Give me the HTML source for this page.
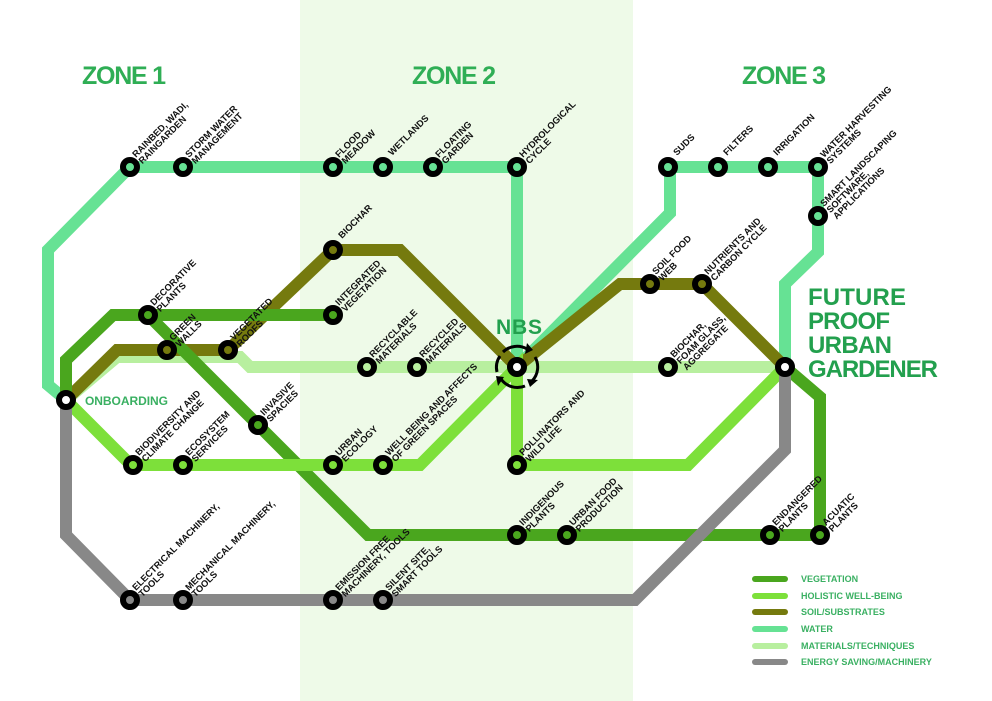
<!DOCTYPE html>
<html><head><meta charset="utf-8"><style>
html,body{margin:0;padding:0;background:#fff}
svg{display:block}
.lbl{font-family:"Liberation Sans",sans-serif;font-weight:bold;font-size:9.3px;fill:#111}
.zone{font-family:"Liberation Sans",sans-serif;font-weight:bold;font-size:25px;fill:#2fae55}
.big{font-family:"Liberation Sans",sans-serif;font-weight:bold;font-size:24px;fill:#23a04e}
.leg{font-family:"Liberation Sans",sans-serif;font-weight:bold;font-size:9px;fill:#3ab062}
</style></head><body>
<svg width="992" height="701" viewBox="0 0 992 701" xmlns="http://www.w3.org/2000/svg">
<rect x="300" y="0" width="333" height="701" fill="#eefae8"/>
<text class="zone" x="82" y="84" textLength="84">ZONE 1</text>
<text class="zone" x="412" y="84" textLength="84">ZONE 2</text>
<text class="zone" x="742" y="84" textLength="84">ZONE 3</text>
<g fill="none" stroke-width="12" stroke-linejoin="miter">
<polyline stroke="#66e294" points="66,400 48,385 48,250 130,167 517,167 517,367"/>
<polyline stroke="#66e294" points="517,367 670,213 670,167 818,167 818,252 785,284 785,367"/>
<polyline stroke="#b8ef9f" points="66,400 117,357 240,357 250,367 785,367"/>
<polyline stroke="#757a0e" points="66,400 117,350 228,350 333,250 400,250 517,367 620,284 702,284 785,367"/>
<polyline stroke="#4aa61e" points="66,400 66,360 113,315 333,315"/>
<polyline stroke="#4aa61e" points="148,315 368,535 820,535 820,397 785,367"/>
<polyline stroke="#7de03a" points="66,400 131,465 420,465 517,367 517,465 688,465 785,367"/>
<polyline stroke="#888" points="66,400 66,535 130,600 635,600 785,450 785,367"/>
</g>
<g stroke="#000" stroke-width="6">
<g fill="#66e294">
<circle cx="130" cy="167" r="7"/><circle cx="183" cy="167" r="7"/><circle cx="333" cy="167" r="7"/><circle cx="383" cy="167" r="7"/><circle cx="433" cy="167" r="7"/><circle cx="517" cy="167" r="7"/><circle cx="668" cy="167" r="7"/><circle cx="718" cy="167" r="7"/><circle cx="768" cy="167" r="7"/><circle cx="818" cy="167" r="7"/><circle cx="818" cy="216" r="7"/>
</g>
<g fill="#757a0e"><circle cx="333" cy="250" r="7"/><circle cx="650" cy="284" r="7"/><circle cx="702" cy="284" r="7"/><circle cx="228" cy="350" r="7"/><circle cx="167" cy="350" r="7"/></g>
<g fill="#4aa61e"><circle cx="148" cy="315" r="7"/><circle cx="333" cy="315" r="7"/><circle cx="258" cy="425" r="7"/><circle cx="517" cy="535" r="7"/><circle cx="567" cy="535" r="7"/><circle cx="770" cy="535" r="7"/><circle cx="820" cy="535" r="7"/></g>
<g fill="#b8ef9f"><circle cx="367" cy="367" r="7"/><circle cx="417" cy="367" r="7"/><circle cx="668" cy="367" r="7"/></g>
<g fill="#7de03a"><circle cx="133" cy="465" r="7"/><circle cx="183" cy="465" r="7"/><circle cx="333" cy="465" r="7"/><circle cx="383" cy="465" r="7"/><circle cx="517" cy="465" r="7"/></g>
<g fill="#888"><circle cx="130" cy="600" r="7"/><circle cx="183" cy="600" r="7"/><circle cx="333" cy="600" r="7"/><circle cx="383" cy="600" r="7"/></g>
<g fill="#fff"><circle cx="66" cy="400" r="7"/><circle cx="785" cy="367" r="7"/><circle cx="517" cy="367" r="7"/></g>
</g>
<g fill="none" stroke="#000" stroke-width="3">
<path d="M503,352 A20,20 0 0 1 527,349"/>
<path d="M535,357 A20,20 0 0 1 532,381"/>
<path d="M525,386 A20,20 0 0 1 501,379"/>
<path d="M497,372 A20,20 0 0 1 500,356"/>
</g>
<g fill="#000">
<polygon points="527,343 533,350 525,354"/>
<polygon points="538,380 530,387 527,379"/>
<polygon points="498,386 496,376 504,377"/>
</g>
<text class="big" x="496" y="334" style="font-size:21px" textLength="46">NBS</text>
<text class="big" x="808" y="305" textLength="98">FUTURE</text>
<text class="big" x="808" y="329" textLength="82">PROOF</text>
<text class="big" x="808" y="353" textLength="84">URBAN</text>
<text class="big" x="808" y="377" textLength="130">GARDENER</text>
<text class="leg" x="85" y="405" style="font-size:12px" textLength="83">ONBOARDING</text>
<g class="lbl">
<text transform="translate(136,158) rotate(-45)">RAINBED, WADI,<tspan x="0" dy="9">RAINGARDEN</tspan></text>
<text transform="translate(189,158) rotate(-45)">STORM WATER<tspan x="0" dy="9">MANAGEMENT</tspan></text>
<text transform="translate(339,158) rotate(-45)">FLOOD<tspan x="0" dy="9">MEADOW</tspan></text>
<text transform="translate(392,156) rotate(-45)">WETLANDS</text>
<text transform="translate(439,158) rotate(-45)">FLOATING<tspan x="0" dy="9">GARDEN</tspan></text>
<text transform="translate(523,158) rotate(-45)">HYDROLOGICAL<tspan x="0" dy="9">CYCLE</tspan></text>
<text transform="translate(677,156) rotate(-45)">SUDS</text>
<text transform="translate(727,156) rotate(-45)">FILTERS</text>
<text transform="translate(777,156) rotate(-45)">IRRIGATION</text>
<text transform="translate(824,158) rotate(-45)">WATER HARVESTING<tspan x="0" dy="9">SYSTEMS</tspan></text>
<text transform="translate(824,207) rotate(-45)">SMART LANDSCAPING<tspan x="0" dy="9">SOFTWARE,</tspan><tspan x="0" dy="9">APPLICATIONS</tspan></text>
<text transform="translate(342,239) rotate(-45)">BIOCHAR</text>
<text transform="translate(339,306) rotate(-45)">INTEGRATED<tspan x="0" dy="9">VEGETATION</tspan></text>
<text transform="translate(154,306) rotate(-45)">DECORATIVE<tspan x="0" dy="9">PLANTS</tspan></text>
<text transform="translate(173,341) rotate(-45)">GREEN<tspan x="0" dy="9">WALLS</tspan></text>
<text transform="translate(234,341) rotate(-45)">VEGETATED<tspan x="0" dy="9">ROOFS</tspan></text>
<text transform="translate(373,358) rotate(-45)">RECYCLABLE<tspan x="0" dy="9">MATERIALS</tspan></text>
<text transform="translate(423,358) rotate(-45)">RECYCLED<tspan x="0" dy="9">MATERIALS</tspan></text>
<text transform="translate(656,275) rotate(-45)">SOIL FOOD<tspan x="0" dy="9">WEB</tspan></text>
<text transform="translate(708,275) rotate(-45)">NUTRIENTS AND<tspan x="0" dy="9">CARBON CYCLE</tspan></text>
<text transform="translate(674,358) rotate(-45)">BIOCHAR,<tspan x="0" dy="9">FOAM GLASS,</tspan><tspan x="0" dy="9">AGGREGATE</tspan></text>
<text transform="translate(264,416) rotate(-45)">INVASIVE<tspan x="0" dy="9">SPACIES</tspan></text>
<text transform="translate(139,456) rotate(-45)">BIODIVERSITY AND<tspan x="0" dy="9">CLIMATE CHANGE</tspan></text>
<text transform="translate(189,456) rotate(-45)">ECOSYSTEM<tspan x="0" dy="9">SERVICES</tspan></text>
<text transform="translate(339,456) rotate(-45)">URBAN<tspan x="0" dy="9">ECOLOGY</tspan></text>
<text transform="translate(389,456) rotate(-45)">WELL BEING AND AFFECTS<tspan x="0" dy="9">OF GREEN SPACES</tspan></text>
<text transform="translate(523,456) rotate(-45)">POLLINATORS AND<tspan x="0" dy="9">WILD LIFE</tspan></text>
<text transform="translate(523,526) rotate(-45)">INDIGENOUS<tspan x="0" dy="9">PLANTS</tspan></text>
<text transform="translate(573,526) rotate(-45)">URBAN FOOD<tspan x="0" dy="9">PRODUCTION</tspan></text>
<text transform="translate(776,526) rotate(-45)">ENDANGERED<tspan x="0" dy="9">PLANTS</tspan></text>
<text transform="translate(826,526) rotate(-45)">ACUATIC<tspan x="0" dy="9">PLANTS</tspan></text>
<text transform="translate(136,591) rotate(-45)">ELECTRICAL MACHINERY,<tspan x="0" dy="9">TOOLS</tspan></text>
<text transform="translate(189,591) rotate(-45)">MECHANICAL MACHINERY,<tspan x="0" dy="9">TOOLS</tspan></text>
<text transform="translate(339,591) rotate(-45)">EMISSION FREE<tspan x="0" dy="9">MACHINERY, TOOLS</tspan></text>
<text transform="translate(389,591) rotate(-45)">SILENT SITE,<tspan x="0" dy="9">SMART TOOLS</tspan></text>
</g>
<g stroke-width="6" stroke-linecap="round">
<line x1="755" y1="579" x2="785" y2="579" stroke="#4aa61e"/>
<line x1="755" y1="596" x2="785" y2="596" stroke="#7de03a"/>
<line x1="755" y1="612" x2="785" y2="612" stroke="#757a0e"/>
<line x1="755" y1="629" x2="785" y2="629" stroke="#66e294"/>
<line x1="755" y1="646" x2="785" y2="646" stroke="#b8ef9f"/>
<line x1="755" y1="662" x2="785" y2="662" stroke="#888"/>
</g>
<g class="leg">
<text x="801" y="582">VEGETATION</text>
<text x="801" y="599">HOLISTIC WELL-BEING</text>
<text x="801" y="615">SOIL/SUBSTRATES</text>
<text x="801" y="632">WATER</text>
<text x="801" y="649">MATERIALS/TECHNIQUES</text>
<text x="801" y="665">ENERGY SAVING/MACHINERY</text>
</g>
</svg>
</body></html>
